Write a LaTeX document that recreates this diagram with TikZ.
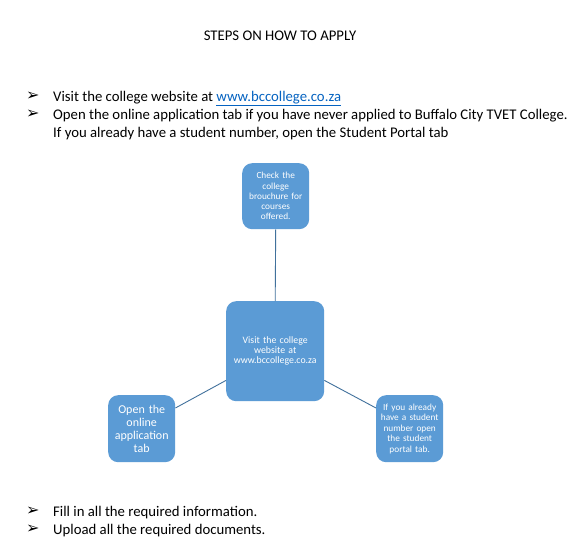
\documentclass[tikz,border=0pt]{standalone}
\usepackage{fontspec}
\setmainfont{Carlito}
\newfontfamily\symfont{DejaVu Sans}
\definecolor{boxblue}{HTML}{5B9BD5}
\definecolor{linkblue}{HTML}{0563C1}
\definecolor{lineblue}{HTML}{41719C}
\begin{document}
\begin{tikzpicture}[x=1pt,y=1pt,
  every node/.style={inner sep=0pt},
  txt/.style={anchor=base west,font=\fontsize{14.75}{17}\selectfont},
  bul/.style={anchor=base west,font=\symfont\bfseries\fontsize{16}{18}\selectfont},
  rbox/.style={fill=boxblue,rounded corners=10pt,text=white,align=center,anchor=north west},
  conn/.style={draw=lineblue,line width=0.9pt}]
\fill[white] (0,0) rectangle (570,-551);
\useasboundingbox (0,0) rectangle (570,-551);
\node[anchor=base,font=\fontsize{14.75}{17}\selectfont] (title) at (280,-41) {STEPS ON HOW TO APPLY};
\node[bul] (b1) at (26,-100) {➢};
\node[txt] (t1) at (53,-101) {Visit the college website at \textcolor{linkblue}{\underline{www.bccollege.co.za}}};
\node[bul] (b2) at (26,-118) {➢};
\node[txt] (t2) at (53,-119) {Open the online application tab if you have never applied to Buffalo City TVET College.};
\node[txt] (t3) at (53,-137) {If you already have a student number, open the Student Portal tab};
\node[bul] (b3) at (26,-515) {➢};
\node[txt] (t4) at (53,-516) {Fill in all the required information.};
\node[bul] (b4) at (26,-533) {➢};
\node[txt] (t5) at (53,-534) {Upload all the required documents.};
% boxes
\node[rbox,minimum width=67pt,minimum height=66pt,text width=64pt,font=\fontsize{9.3}{10.3}\selectfont] (T) at (242,-163) {Check the\\college\\brouchure for\\courses\\offered.};
\node[rbox,minimum width=98pt,minimum height=100pt,text width=94pt,font=\fontsize{9.8}{10}\selectfont] (C) at (226,-301) {Visit the college\\website at\\www.bccollege.co.za};
\node[rbox,minimum width=67pt,minimum height=67pt,text width=64pt,font=\fontsize{12}{13}\selectfont] (L) at (108,-395) {Open the\\online\\application\\tab};
\node[rbox,minimum width=67pt,minimum height=67pt,text width=66pt,font=\fontsize{9.3}{10.5}\selectfont] (R) at (376,-395) {If you already\\have a student\\number open\\the student\\portal tab.};
% connectors
\draw[conn] (T.south) -- (C.north);
\draw[conn] ([yshift=-13pt]L.north east) -- ([yshift=21pt]C.south west);
\draw[conn] ([yshift=21pt]C.south east) -- ([yshift=-13pt]R.north west);
\end{tikzpicture}
\end{document}
